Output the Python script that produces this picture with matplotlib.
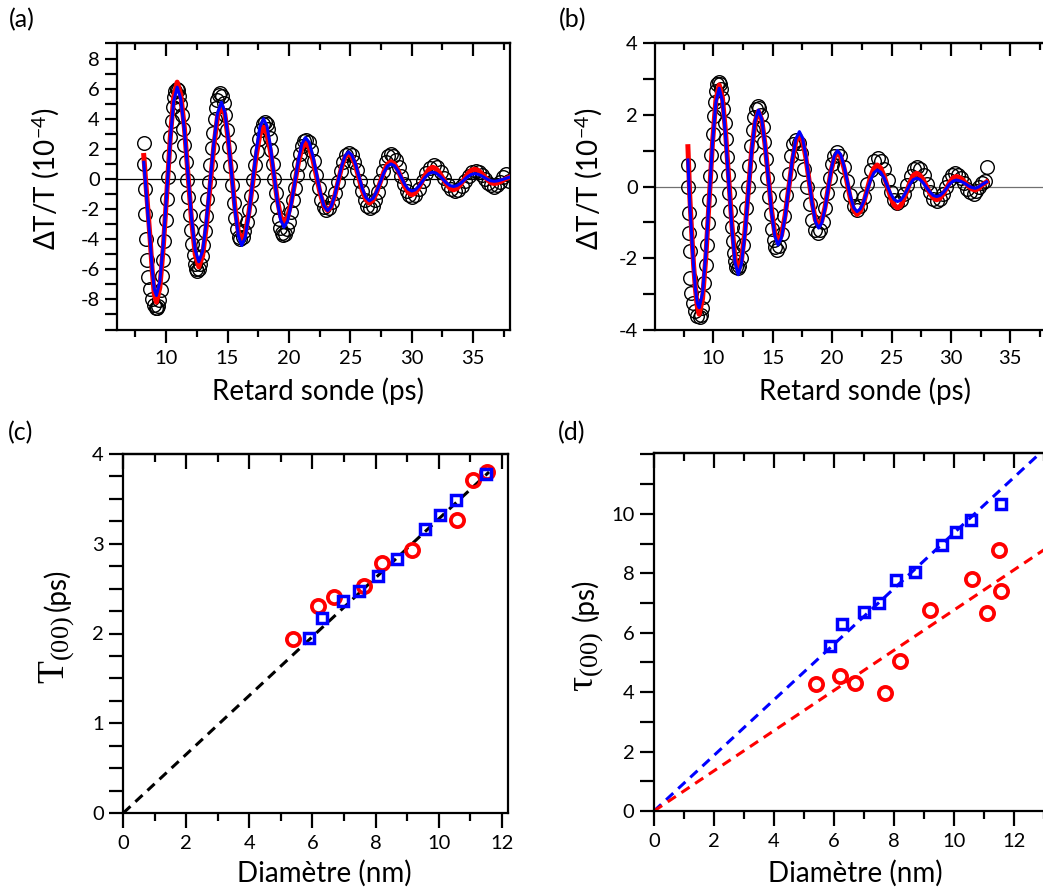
import matplotlib
matplotlib.use("Agg")
import matplotlib.pyplot as plt
from matplotlib.ticker import MultipleLocator, FixedLocator

W, H = 1043, 892

# ---- panel (a): pump-probe trace, data circles + two fits
a_delay = [8.20, 8.22, 8.26, 8.31, 8.37, 8.45, 8.56, 8.70, 8.87, 9.03, 9.15,
           9.25, 9.35, 9.45, 9.55, 9.65, 9.75, 9.85, 9.95, 10.05, 10.15, 10.25, 10.35, 10.45, 10.55, 10.65, 10.75, 10.85,
           10.96, 11.06, 11.17, 11.28, 11.38, 11.49, 11.59, 11.70, 11.81, 11.91, 12.02, 12.13, 12.23, 12.34, 12.44, 12.55,
           12.67, 12.78, 12.90, 13.01, 13.13, 13.25, 13.36, 13.48, 13.59, 13.71, 13.83, 13.94, 14.06, 14.17, 14.29, 14.40,
           14.54, 14.68, 14.81, 14.95, 15.09, 15.23, 15.36, 15.50, 15.64, 15.78, 15.91, 16.05,
           16.22, 16.38, 16.55, 16.72, 16.88, 17.05, 17.22, 17.38, 17.55, 17.72, 17.88, 18.05,
           18.18, 18.30, 18.43, 18.55, 18.68, 18.80, 18.93, 19.05, 19.18, 19.30, 19.43, 19.55,
           19.70, 19.86, 20.01, 20.17, 20.32, 20.47, 20.63, 20.78, 20.94, 21.09, 21.25, 21.40,
           21.61, 21.81, 22.02, 22.23, 22.43, 22.64, 22.84, 23.05,
           23.28, 23.51, 23.74, 23.98, 24.21, 24.44, 24.67, 24.90,
           25.11, 25.33, 25.54, 25.75, 25.96, 26.18, 26.39, 26.60,
           26.81, 27.03, 27.24, 27.45, 27.66, 27.88, 28.09, 28.30,
           28.51, 28.73, 28.94, 29.15, 29.36, 29.58, 29.79, 30.00,
           30.30, 30.60, 30.90, 31.20, 31.50, 31.80,
           32.08, 32.37, 32.65, 32.93, 33.22, 33.50,
           33.78, 34.07, 34.35, 34.63, 34.92, 35.20,
           35.45, 35.70, 35.95, 36.20, 36.45, 36.70,
           36.95, 37.20, 37.45, 37.70, 37.95]
a_signal = [2.40, 1.00, -0.65, -2.30, -3.97, -5.41, -6.50, -7.30, -8.00, -8.40, -8.55,
            -8.60, -8.46, -8.05, -7.37, -6.46, -5.36, -4.10, -2.72, -1.30, 0.12, 1.50, 2.76, 3.86, 4.77, 5.45, 5.86, 6.00,
            5.89, 5.54, 4.98, 4.23, 3.31, 2.27, 1.13, -0.05, -1.23, -2.37, -3.41, -4.33, -5.08, -5.64, -5.99, -6.10,
            -5.99, -5.65, -5.10, -4.37, -3.48, -2.46, -1.35, -0.20, 0.95, 2.06, 3.08, 3.97, 4.70, 5.25, 5.59, 5.70,
            5.54, 5.05, 4.28, 3.28, 2.11, 0.85, -0.41, -1.58, -2.58, -3.35, -3.84, -4.00,
            -3.87, -3.48, -2.86, -2.05, -1.11, -0.10, 0.91, 1.85, 2.66, 3.28, 3.67, 3.80,
            3.68, 3.30, 2.70, 1.92, 1.01, 0.03, -0.95, -1.86, -2.64, -3.24, -3.62, -3.75,
            -3.65, -3.33, -2.83, -2.17, -1.40, -0.58, 0.24, 1.01, 1.67, 2.17, 2.49, 2.60,
            2.43, 1.93, 1.17, 0.28, -0.61, -1.37, -1.87, -2.05,
            -1.92, -1.51, -0.90, -0.18, 0.54, 1.15, 1.56, 1.70,
            1.56, 1.16, 0.57, -0.13, -0.83, -1.42, -1.82, -1.95,
            -1.81, -1.42, -0.84, -0.15, 0.54, 1.12, 1.51, 1.65,
            1.55, 1.24, 0.78, 0.23, -0.32, -0.78, -1.09, -1.20,
            -1.06, -0.68, -0.15, 0.38, 0.76, 0.90,
            0.79, 0.48, 0.05, -0.38, -0.69, -0.80,
            -0.72, -0.47, -0.13, 0.21, 0.46, 0.55,
            0.48, 0.29, 0.03, -0.24, -0.43, -0.50,
            -0.38, -0.20, 0.15, 0.30, -0.15]

a_fit_delay = [8.18, 8.35, 8.52, 8.69, 8.86, 9.03, 9.21,
               9.49, 9.77, 10.06, 10.34, 10.62, 10.90,
               11.19, 11.49, 11.78, 12.07, 12.37, 12.66,
               12.97, 13.27, 13.58, 13.89, 14.19, 14.50,
               14.78, 15.05, 15.33, 15.60, 15.88, 16.15,
               16.45, 16.74, 17.04, 17.34, 17.63, 17.93,
               18.21, 18.49, 18.77, 19.04, 19.32, 19.60,
               19.89, 20.18, 20.48, 20.77, 21.06, 21.35,
               21.65, 21.95, 22.25, 22.55, 22.85, 23.15,
               23.43, 23.72, 24.00, 24.28, 24.57, 24.85,
               25.13, 25.42, 25.70, 25.98, 26.27, 26.55,
               26.84, 27.13, 27.43, 27.72, 28.01, 28.30,
               28.58, 28.87, 29.15, 29.43, 29.72, 30.00,
               30.28, 30.57, 30.85, 31.13, 31.42, 31.70,
               31.98, 32.27, 32.55, 32.83, 33.12, 33.40,
               33.68, 33.97, 34.25, 34.53, 34.82, 35.10,
               35.37, 35.63, 35.90, 36.17, 36.43, 36.70,
               36.95, 37.20, 37.45, 37.70, 37.95]
a_fit_red = [1.56, -0.30, -2.10, -3.90, -6.00, -7.60, -8.18,
             -7.20, -4.53, -0.88, 2.78, 5.45, 6.43,
             5.61, 3.37, 0.30, -2.77, -5.01, -5.83,
             -5.11, -3.15, -0.47, 2.22, 4.18, 4.90,
             4.30, 2.65, 0.40, -1.85, -3.50, -4.10,
             -3.60, -2.22, -0.33, 1.56, 2.94, 3.44,
             3.02, 1.86, 0.27, -1.32, -2.48, -2.90,
             -2.54, -1.58, -0.25, 1.08, 2.04, 2.40,
             2.10, 1.28, 0.15, -0.98, -1.80, -2.10,
             -1.85, -1.15, -0.20, 0.75, 1.45, 1.70,
             1.48, 0.88, 0.05, -0.78, -1.38, -1.60,
             -1.42, -0.91, -0.23, 0.46, 0.97, 1.15,
             1.00, 0.60, 0.05, -0.50, -0.90, -1.05,
             -0.93, -0.59, -0.14, 0.32, 0.66, 0.78,
             0.68, 0.41, 0.03, -0.35, -0.62, -0.72,
             -0.63, -0.38, -0.04, 0.31, 0.56, 0.65,
             0.59, 0.41, 0.18, -0.06, -0.24, -0.30,
             -0.27, -0.19, -0.08, 0.03, 0.12]
a_fit_blue = [1.11, -0.60, -2.40, -4.00, -5.90, -7.30, -7.74,
              -6.81, -4.28, -0.82, 2.64, 5.17, 6.10,
              5.32, 3.20, 0.30, -2.60, -4.72, -5.50,
              -4.79, -2.85, -0.20, 2.45, 4.39, 5.10,
              4.46, 2.72, 0.34, -2.04, -3.78, -4.42,
              -3.86, -2.32, -0.21, 1.90, 3.44, 4.00,
              3.52, 2.20, 0.40, -1.40, -2.72, -3.20,
              -2.80, -1.71, -0.23, 1.26, 2.35, 2.75,
              2.43, 1.54, 0.33, -0.89, -1.78, -2.10,
              -1.84, -1.13, -0.15, 0.83, 1.54, 1.80,
              1.58, 0.99, 0.18, -0.64, -1.23, -1.45,
              -1.29, -0.84, -0.23, 0.39, 0.84, 1.00,
              0.88, 0.55, 0.10, -0.35, -0.68, -0.80,
              -0.72, -0.49, -0.18, 0.14, 0.37, 0.45,
              0.39, 0.21, -0.03, -0.26, -0.44, -0.50,
              -0.44, -0.29, -0.08, 0.14, 0.29, 0.35,
              0.32, 0.23, 0.10, -0.03, -0.12, -0.15,
              -0.13, -0.08, -0.02, 0.05, 0.12]

# ---- panel (b)
b_delay = [7.87, 7.89, 7.92, 7.96, 8.01, 8.08, 8.16, 8.27, 8.45, 8.65,
           8.85, 8.95, 9.05, 9.15, 9.25, 9.35, 9.45, 9.55, 9.65, 9.75, 9.85, 9.95, 10.05, 10.15, 10.25, 10.35, 10.45,
           10.55, 10.65, 10.75, 10.85, 10.95, 11.05, 11.15, 11.25, 11.35, 11.45, 11.55, 11.65, 11.75, 11.85, 11.95, 12.05,
           12.19, 12.33, 12.48, 12.62, 12.76, 12.90, 13.04, 13.18, 13.33, 13.47, 13.61, 13.75,
           13.88, 14.02, 14.15, 14.28, 14.42, 14.55, 14.68, 14.82, 14.95, 15.08, 15.22, 15.35,
           15.55, 15.75, 15.95, 16.15, 16.35, 16.55, 16.75, 16.95,
           17.18, 17.41, 17.64, 17.88, 18.11, 18.34, 18.57, 18.80,
           19.00, 19.20, 19.40, 19.60, 19.80, 20.00, 20.20, 20.40,
           20.68, 20.97, 21.25, 21.53, 21.82, 22.10,
           22.39, 22.68, 22.98, 23.27, 23.56, 23.85,
           24.13, 24.40, 24.68, 24.95, 25.23, 25.50,
           25.78, 26.05, 26.33, 26.60, 26.88, 27.15,
           27.43, 27.70, 27.98, 28.25, 28.53, 28.80,
           29.06, 29.32, 29.58, 29.83, 30.09, 30.35,
           30.61, 30.87, 31.13, 31.38, 31.64, 31.90,
           32.15, 32.40, 32.65, 32.85, 33.00]
b_signal = [0.60, 0.00, -0.74, -1.30, -1.81, -2.55, -2.97, -3.25, -3.48, -3.62,
            -3.65, -3.59, -3.40, -3.09, -2.69, -2.19, -1.62, -1.01, -0.37, 0.28, 0.89, 1.46, 1.96, 2.36, 2.67, 2.86, 2.92,
            2.87, 2.72, 2.48, 2.16, 1.77, 1.32, 0.83, 0.32, -0.19, -0.68, -1.13, -1.52, -1.84, -2.08, -2.23, -2.28,
            -2.21, -1.98, -1.62, -1.15, -0.61, -0.02, 0.57, 1.12, 1.58, 1.95, 2.17, 2.25,
            2.18, 1.98, 1.66, 1.25, 0.76, 0.24, -0.28, -0.77, -1.18, -1.50, -1.70, -1.77,
            -1.66, -1.33, -0.83, -0.24, 0.35, 0.85, 1.18, 1.30,
            1.20, 0.92, 0.50, 0.00, -0.50, -0.92, -1.20, -1.30,
            -1.22, -0.98, -0.61, -0.18, 0.25, 0.62, 0.86, 0.95,
            0.84, 0.55, 0.15, -0.25, -0.54, -0.65,
            -0.55, -0.29, 0.08, 0.45, 0.71, 0.80,
            0.72, 0.49, 0.18, -0.14, -0.37, -0.45,
            -0.38, -0.20, 0.05, 0.30, 0.48, 0.55,
            0.49, 0.31, 0.08, -0.16, -0.34, -0.40,
            -0.35, -0.21, -0.02, 0.18, 0.32, 0.37,
            0.33, 0.23, 0.09, -0.06, -0.16, -0.20,
            -0.12, -0.02, 0.10, 0.15, 0.55]

b_fit_delay = [7.87, 8.03, 8.19, 8.35, 8.50, 8.66, 8.82,
               9.10, 9.38, 9.66, 9.94, 10.22, 10.50,
               10.77, 11.03, 11.30, 11.57, 11.83, 12.10,
               12.38, 12.67, 12.95, 13.23, 13.52, 13.80,
               14.08, 14.35, 14.63, 14.90, 15.18, 15.45,
               15.75, 16.05, 16.35, 16.65, 16.95, 17.25,
               17.52, 17.79, 18.06, 18.33, 18.60, 18.87,
               19.13, 19.40, 19.66, 19.92, 20.19, 20.45,
               20.73, 21.00, 21.28, 21.55, 21.83, 22.10,
               22.38, 22.67, 22.95, 23.23, 23.52, 23.80,
               24.08, 24.37, 24.65, 24.93, 25.22, 25.50,
               25.77, 26.03, 26.30, 26.57, 26.83, 27.10,
               27.38, 27.67, 27.95, 28.23, 28.52, 28.80,
               29.08, 29.35, 29.63, 29.90, 30.18, 30.45,
               30.72, 30.98, 31.25, 31.52, 31.78, 32.05,
               32.35, 32.65, 33.00]
b_fit_red = [1.11, -0.30, -1.30, -2.20, -2.85, -3.35, -3.56,
             -3.13, -1.96, -0.37, 1.23, 2.40, 2.83,
             2.48, 1.54, 0.24, -1.06, -2.00, -2.35,
             -2.05, -1.24, -0.13, 0.99, 1.80, 2.10,
             1.86, 1.19, 0.28, -0.64, -1.31, -1.55,
             -1.35, -0.80, -0.05, 0.70, 1.25, 1.45,
             1.28, 0.81, 0.18, -0.46, -0.93, -1.10,
             -0.96, -0.59, -0.08, 0.44, 0.81, 0.95,
             0.83, 0.52, 0.09, -0.35, -0.66, -0.78,
             -0.69, -0.44, -0.09, 0.26, 0.51, 0.60,
             0.52, 0.30, 0.00, -0.30, -0.52, -0.60,
             -0.54, -0.36, -0.12, 0.13, 0.31, 0.37,
             0.32, 0.19, 0.00, -0.19, -0.32, -0.37,
             -0.33, -0.21, -0.05, 0.12, 0.24, 0.28,
             0.25, 0.19, 0.09, -0.01, -0.07, -0.10,
             -0.05, 0.05, 0.13]
b_fit_blue = [0.74, -0.50, -1.40, -2.25, -2.85, -3.25, -3.38,
              -2.97, -1.85, -0.32, 1.21, 2.33, 2.74,
              2.39, 1.44, 0.14, -1.16, -2.11, -2.46,
              -2.15, -1.31, -0.17, 0.98, 1.82, 2.13,
              1.88, 1.19, 0.25, -0.69, -1.38, -1.63,
              -1.42, -0.84, -0.05, 0.74, 1.32, 1.53,
              1.35, 0.86, 0.19, -0.49, -0.98, -1.16,
              -1.02, -0.62, -0.08, 0.46, 0.86, 1.00,
              0.89, 0.58, 0.15, -0.28, -0.59, -0.70,
              -0.62, -0.41, -0.12, 0.17, 0.38, 0.46,
              0.40, 0.24, 0.02, -0.20, -0.36, -0.42,
              -0.38, -0.26, -0.10, 0.07, 0.19, 0.23,
              0.20, 0.10, -0.03, -0.15, -0.25, -0.28,
              -0.25, -0.17, -0.05, 0.07, 0.15, 0.18,
              0.16, 0.12, 0.07, 0.01, -0.03, -0.05,
              -0.01, 0.06, 0.13]

# ---- panel (c): period vs diameter
c_diam_red = [5.39, 6.18, 6.69, 7.64, 8.19, 9.16, 10.57, 11.08, 11.52]
c_period_red = [1.94, 2.31, 2.41, 2.53, 2.78, 2.93, 3.27, 3.71, 3.80]
c_diam_blue = [5.89, 6.29, 6.98, 7.47, 8.07, 8.67, 9.57, 10.04, 10.55, 11.50]
c_period_blue = [1.95, 2.17, 2.36, 2.47, 2.64, 2.83, 3.16, 3.32, 3.49, 3.78]
c_line_x = [0.0, 11.6]
c_line_y = [0.0, 3.80]

# ---- panel (d): damping time vs diameter
d_diam_red = [5.41, 6.19, 6.69, 7.71, 8.19, 9.19, 10.60, 11.10, 11.49, 11.58]
d_tau_red = [4.26, 4.54, 4.31, 3.96, 5.06, 6.76, 7.80, 6.65, 8.79, 7.40]
d_diam_blue = [5.88, 6.28, 7.00, 7.49, 8.08, 8.71, 9.60, 10.08, 10.58, 11.58]
d_tau_blue = [5.55, 6.31, 6.71, 7.01, 7.78, 8.03, 8.96, 9.40, 9.78, 10.33]
d_line_x = [0.0, 13.1]
d_line_blue = [0.0, 12.26]
d_line_red = [0.0, 8.86]

TICK_FS = 14.5
LABEL_FS = 20


def fx(px):
    return px / W


def fy(py):
    return 1.0 - py / H


def style_axes(ax, x_major, x_minor, y_major, y_minor, maj_len, min_len):
    ax.xaxis.set_major_locator(x_major)
    ax.xaxis.set_minor_locator(x_minor)
    ax.yaxis.set_major_locator(y_major)
    ax.yaxis.set_minor_locator(y_minor)
    for sp in ax.spines.values():
        sp.set_linewidth(1.6)
    ax.tick_params(axis="both", which="both", width=1.6, labelsize=TICK_FS)
    ax.tick_params(axis="x", which="both", direction="out", top=False, bottom=True, pad=5)
    ax.tick_params(axis="x", which="major", length=maj_len)
    ax.tick_params(axis="x", which="minor", length=min_len)
    ax.tick_params(axis="y", which="both", direction="out", left=True, right=False,
                   length=maj_len - 1, pad=4)

    # top axis carries inward ticks, no labels
    top = ax.secondary_xaxis("top")
    top.xaxis.set_major_locator(x_major)
    top.xaxis.set_minor_locator(x_minor)
    top.spines["top"].set_linewidth(1.6)
    top.tick_params(axis="x", which="both", direction="in", width=1.6, labeltop=False)
    top.tick_params(axis="x", which="major", length=maj_len)
    top.tick_params(axis="x", which="minor", length=min_len)


def main():
    plt.rcParams["font.family"] = ["Lato", "DejaVu Sans"]
    plt.rcParams["axes.unicode_minus"] = False
    plt.rcParams["mathtext.fontset"] = "custom"
    plt.rcParams["mathtext.rm"] = "Liberation Serif"
    plt.rcParams["mathtext.it"] = "Liberation Serif:italic"
    plt.rcParams["mathtext.bf"] = "Liberation Serif:bold"
    plt.rcParams["mathtext.sf"] = "Lato"

    fig = plt.figure(figsize=(W / 100, H / 100), dpi=100)

    # (a)
    ax = fig.add_axes([fx(117), fy(330), fx(510) - fx(117), fy(43) - fy(330)])
    ax.axhline(0, color="black", lw=0.9, zorder=1)
    ax.plot(a_delay, a_signal, "o", mfc="none", mec="black", ms=9.8, mew=1.0, zorder=2)
    ax.plot(a_fit_delay, a_fit_red, color="#ff0000", lw=3.6, solid_joinstyle="round", zorder=3)
    ax.plot(a_fit_delay, a_fit_blue, color="#0000ff", lw=2.2, solid_joinstyle="round", zorder=4)
    ax.set_xlim(6, 38)
    ax.set_ylim(-10.03, 9.03)
    style_axes(ax, MultipleLocator(5), MultipleLocator(2.5),
               FixedLocator([-8, -6, -4, -2, 0, 2, 4, 6, 8]), MultipleLocator(1), 9.5, 5)

    # (b)
    ax = fig.add_axes([fx(655), fy(330), fx(1046) - fx(655), fy(43) - fy(330)])
    ax.axhline(0, color="#707070", lw=0.9, zorder=1)
    ax.plot(b_delay, b_signal, "o", mfc="none", mec="black", ms=9.8, mew=1.0, zorder=2)
    ax.plot(b_fit_delay, b_fit_red, color="#ff0000", lw=3.6, solid_joinstyle="round", zorder=3)
    ax.plot(b_fit_delay, b_fit_blue, color="#0000ff", lw=2.2, solid_joinstyle="round", zorder=4)
    ax.set_xlim(5.1, 38)
    ax.set_ylim(-4, 4)
    style_axes(ax, MultipleLocator(5), MultipleLocator(2.5), MultipleLocator(2), MultipleLocator(1),
               9.5, 5)

    # (c)
    ax = fig.add_axes([fx(123.3), fy(813), fx(508) - fx(123.3), fy(454) - fy(813)])
    ax.plot(c_line_x, c_line_y, color="black", lw=2.2, dashes=(3.2, 2.2), zorder=2)
    ax.plot(c_diam_red, c_period_red, "o", mfc="none", mec="#ff0000", ms=9.5, mew=2.7, zorder=3)
    ax.plot(c_diam_blue, c_period_blue, "s", mfc="none", mec="#0000ff", ms=7.5, mew=2.5, zorder=4)
    ax.set_xlim(0, 12.2)
    ax.set_ylim(0, 4)
    style_axes(ax, MultipleLocator(2), MultipleLocator(1), MultipleLocator(1), MultipleLocator(0.25),
               11, 6)

    # (d)
    ax = fig.add_axes([fx(654), fy(811), fx(654 + 13.1 * 30) - fx(654), fy(453) - fy(811)])
    ax.plot(d_line_x, d_line_blue, color="#0000ff", lw=2.2, dashes=(3.2, 2.2), zorder=2)
    ax.plot(d_line_x, d_line_red, color="#ff0000", lw=2.2, dashes=(3.2, 2.2), zorder=2)
    ax.plot(d_diam_red, d_tau_red, "o", mfc="none", mec="#ff0000", ms=9.5, mew=2.7, zorder=3)
    ax.plot(d_diam_blue, d_tau_blue, "s", mfc="none", mec="#0000ff", ms=7.5, mew=2.5, zorder=4)
    ax.set_xlim(0, 13.1)
    ax.set_ylim(0, 12.05)
    style_axes(ax, MultipleLocator(2), MultipleLocator(1), FixedLocator([0, 2, 4, 6, 8, 10]),
               MultipleLocator(1), 11, 6)

    # axis labels
    lab = dict(fontsize=LABEL_FS)
    fig.text(fx(318), fy(400), "Retard sonde (ps)", ha="center", va="baseline", **lab)
    fig.text(fx(865), fy(400), "Retard sonde (ps)", ha="center", va="baseline", **lab)
    fig.text(fx(324), fy(882), "Diamètre (nm)", ha="center", va="baseline", **lab)
    fig.text(fx(855), fy(882), "Diamètre (nm)", ha="center", va="baseline", **lab)

    ylab = r"ΔT/T (10$^{\mathsf{-4}}$)"
    fig.text(fx(56), fy(179), ylab, rotation=90, rotation_mode="anchor",
             ha="center", va="baseline", **lab)
    fig.text(fx(599), fy(179), ylab, rotation=90, rotation_mode="anchor",
             ha="center", va="baseline", **lab)

    fig.text(fx(63), fy(684), r"$\mathrm{T}_{(00)}$", rotation=90, rotation_mode="anchor",
             ha="left", va="baseline", fontsize=27)
    fig.text(fx(66), fy(611), "(ps)", rotation=90, rotation_mode="anchor",
             ha="left", va="baseline", **lab)
    fig.text(fx(592), fy(692), r"$\mathrm{\tau}_{(00)}$", rotation=90, rotation_mode="anchor",
             ha="left", va="baseline", fontsize=27)
    fig.text(fx(594), fy(621), "(ps)", rotation=90, rotation_mode="anchor",
             ha="left", va="baseline", **lab)

    # panel letters
    for px, py, s in [(22, 20, "(a)"), (573, 20, "(b)"), (21, 433, "(c)"), (572, 433, "(d)")]:
        fig.text(fx(px), fy(py), s, ha="center", va="center", fontsize=18)

    fig.savefig("out.png", dpi=100)
    plt.close(fig)


if __name__ == "__main__":
    main()
